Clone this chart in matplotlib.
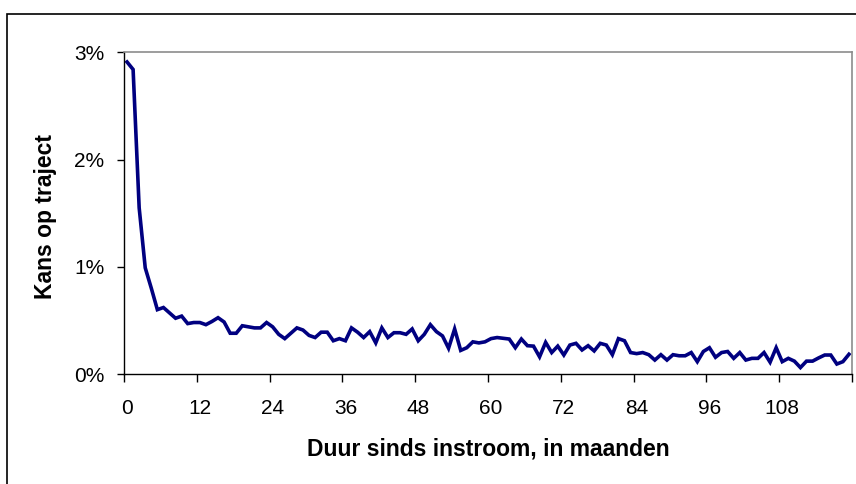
import matplotlib
matplotlib.use("Agg")
import matplotlib.pyplot as plt
from matplotlib.patches import Rectangle
from matplotlib.ticker import FixedLocator, FuncFormatter

plt.rcParams['font.family'] = ['Liberation Sans', 'DejaVu Sans']

months = list(range(120))
kans = [
    2.91, 2.84, 1.55, 0.99, 0.80, 0.60, 0.62, 0.57, 0.52, 0.54,
    0.47, 0.48, 0.48, 0.46, 0.49, 0.525, 0.485, 0.38, 0.38, 0.45,
    0.44, 0.43, 0.43, 0.48, 0.44, 0.37, 0.33, 0.38, 0.43, 0.41,
    0.36, 0.34, 0.39, 0.39, 0.31, 0.33, 0.31, 0.43, 0.39, 0.34,
    0.395, 0.29, 0.43, 0.34, 0.385, 0.385, 0.37, 0.42, 0.31, 0.37,
    0.46, 0.395, 0.355, 0.24, 0.42, 0.22, 0.245, 0.30, 0.29, 0.30,
    0.33, 0.34, 0.333, 0.326, 0.245, 0.326, 0.264, 0.26, 0.16, 0.295,
    0.20, 0.26, 0.177, 0.27, 0.286, 0.224, 0.264, 0.215, 0.286, 0.27,
    0.18, 0.33, 0.31, 0.20, 0.19, 0.20, 0.18, 0.13, 0.18, 0.13,
    0.18, 0.17, 0.17, 0.20, 0.115, 0.21, 0.245, 0.156, 0.20, 0.21,
    0.146, 0.20, 0.13, 0.146, 0.146, 0.20, 0.11, 0.245, 0.115, 0.146,
    0.12, 0.06, 0.12, 0.12, 0.15, 0.177, 0.177, 0.093, 0.115, 0.184,
]
xtick_labels = [0, 12, 24, 36, 48, 60, 72, 84, 96, 108]
ytick_vals = [0, 1, 2, 3]
xlabel = "Duur sinds instroom, in maanden"
ylabel = "Kans op traject"

fig = plt.figure(figsize=(8.56, 4.84), dpi=100)
fig.patch.set_facecolor('white')

# outer chart border (cropped at right/bottom)
fig.patches.append(Rectangle((7/856, -0.05), 1.2, 1 - 14/484 + 0.05,
                             transform=fig.transFigure, fill=False,
                             edgecolor='black', linewidth=1.2, zorder=0))

ax = fig.add_axes([124/856, 1 - 374/484, (852 - 124)/856, (374 - 52.3)/484])
ax.plot(months, kans, color='#000080', linewidth=2.6, solid_joinstyle='miter')

ax.set_xlim(-0.5, 119.5)
ax.set_ylim(0, 3)

# labels centered on categories, tick marks on category boundaries
ax.xaxis.set_major_locator(FixedLocator(xtick_labels))
ax.set_xticklabels([str(v) for v in xtick_labels])
ax.xaxis.set_minor_locator(FixedLocator([v - 0.5 for v in xtick_labels] + [119.5]))
ax.tick_params(axis='x', which='major', length=0, pad=18, labelsize=15)
ax.tick_params(axis='x', which='minor', length=6, width=1, color='black', direction='out')

ax.set_yticks(ytick_vals)
ax.yaxis.set_major_formatter(FuncFormatter(lambda v, p: f"{int(v)}%"))
ax.tick_params(axis='y', which='major', length=5, width=1, pad=9, labelsize=15, direction='out')

for s in ['left', 'bottom']:
    ax.spines[s].set_color('black')
    ax.spines[s].set_linewidth(1.0)
for s in ['top', 'right']:
    ax.spines[s].set_color('#8c8c8c')
    ax.spines[s].set_linewidth(1.2)

fig.text(488/856, 1 - 449/484, xlabel, ha='center', va='center',
         fontsize=16.5, fontweight='bold')
fig.text(46/856, 1 - 216/484, ylabel, ha='center', va='center',
         rotation=90, fontsize=16.5, fontweight='bold')

fig.savefig('out.png', dpi=100)
